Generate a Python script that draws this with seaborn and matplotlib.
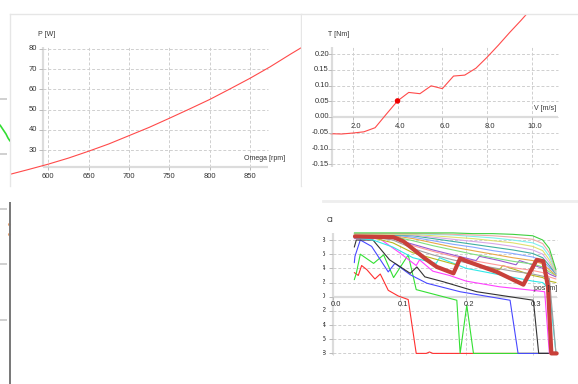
import pandas as pd
import matplotlib.pyplot as plt
import seaborn as sns

sns.set_style("white")
plt.rcParams['font.family'] = ['Liberation Sans', 'DejaVu Sans']

# --- power curve (top left)
omega = [552, 575, 600, 625, 650, 675, 700, 725, 750, 775, 800, 825, 850, 875, 900, 915]
power = [17.9, 20.3, 23.0, 26.0, 29.4, 33.0, 37.1, 41.2, 45.7, 50.3, 55.0, 60.2, 65.5, 71.2, 77.4, 81.0]
omega_ticks = [600, 650, 700, 750, 800, 850]
power_ticks = [30, 40, 50, 60, 70, 80]

# --- torque vs wind speed (top right)
wind = [1.0, 1.5, 2.0, 2.5, 3.0, 3.5, 4.0, 4.5, 5.0, 5.5, 6.0, 6.5, 7.0, 7.5, 8.0, 8.5, 9.0, 9.5, 10.0]
torque = [-0.053, -0.054, -0.051, -0.047, -0.034, 0.009, 0.051, 0.078, 0.074, 0.099, 0.090,
          0.130, 0.133, 0.155, 0.190, 0.228, 0.268, 0.306, 0.346]
wind_ticks = [2.0, 4.0, 6.0, 8.0, 10.0]
torque_ticks = [-0.15, -0.10, -0.05, 0.00, 0.05, 0.10, 0.15, 0.20]
sel_wind = [4.0]
sel_torque = [0.051]

# --- Cl along the blade (bottom right)
pos_ticks = [0.0, 0.1, 0.2, 0.3]
cl_ticks = [-0.8, -0.6, -0.4, -0.2, 0.0, 0.2, 0.4, 0.6, 0.8]

red_pos = [0.032, 0.038, 0.043, 0.051, 0.063, 0.071, 0.083, 0.098, 0.113, 0.125, 0.140, 0.145, 0.150, 0.336]
red_cl = [0.34, 0.30, 0.44, 0.38, 0.25, 0.32, 0.09, 0.01, -0.04, -0.80, -0.80, -0.78, -0.80, -0.80]
green_pos = [0.032, 0.035, 0.041, 0.061, 0.076, 0.091, 0.113, 0.125, 0.186, 0.191, 0.201, 0.211, 0.336]
green_cl = [0.24, 0.33, 0.60, 0.47, 0.59, 0.27, 0.59, 0.10, -0.05, -0.80, -0.12, -0.80, -0.80]
blue_pos = [0.032, 0.033, 0.041, 0.058, 0.083, 0.093, 0.116, 0.141, 0.191, 0.266, 0.278, 0.336]
blue_cl = [0.48, 0.57, 0.80, 0.71, 0.35, 0.47, 0.31, 0.19, 0.07, -0.05, -0.80, -0.80]
black_pos = [0.032, 0.035, 0.060, 0.085, 0.116, 0.126, 0.138, 0.166, 0.216, 0.301, 0.309, 0.336]
black_cl = [0.70, 0.80, 0.80, 0.52, 0.33, 0.42, 0.28, 0.21, 0.07, -0.05, -0.80, -0.80]
magenta_pos = [0.032, 0.070, 0.100, 0.125, 0.130, 0.150, 0.175, 0.200, 0.250, 0.300, 0.318, 0.325, 0.336]
magenta_cl = [0.82, 0.82, 0.62, 0.44, 0.52, 0.36, 0.30, 0.22, 0.14, 0.09, 0.07, -0.80, -0.80]
cyan_pos = [0.032, 0.06, 0.09, 0.12, 0.155, 0.16, 0.20, 0.25, 0.30, 0.315, 0.325, 0.335]
cyan_cl = [0.83, 0.80, 0.70, 0.55, 0.47, 0.55, 0.40, 0.31, 0.22, 0.20, 0.10, -0.80]
olive_pos = [0.032, 0.06, 0.09, 0.12, 0.15, 0.185, 0.19, 0.22, 0.25, 0.255, 0.30, 0.315, 0.325, 0.335]
olive_cl = [0.84, 0.83, 0.76, 0.62, 0.54, 0.45, 0.52, 0.44, 0.38, 0.44, 0.30, 0.27, 0.22, 0.20]
purple_pos = [0.032, 0.06, 0.09, 0.12, 0.15, 0.18, 0.215, 0.22, 0.25, 0.275, 0.28, 0.30, 0.315, 0.325, 0.335]
purple_cl = [0.85, 0.85, 0.82, 0.74, 0.66, 0.59, 0.51, 0.57, 0.51, 0.45, 0.51, 0.45, 0.40, 0.32, 0.28]

fan_pos = [0.032, 0.06, 0.09, 0.12, 0.15, 0.18, 0.21, 0.24, 0.27, 0.30, 0.315, 0.325, 0.335]
gray_cl = [0.84, 0.84, 0.80, 0.68, 0.59, 0.52, 0.46, 0.41, 0.36, 0.32, 0.29, 0.26, -0.80]
pink_cl = [0.85, 0.85, 0.83, 0.72, 0.64, 0.57, 0.51, 0.46, 0.41, 0.37, 0.34, 0.28, 0.25]
lgreen_cl = [0.86, 0.86, 0.85, 0.79, 0.72, 0.66, 0.60, 0.55, 0.50, 0.46, 0.42, 0.35, 0.30]
orange_cl = [0.86, 0.86, 0.86, 0.82, 0.76, 0.70, 0.65, 0.60, 0.55, 0.51, 0.46, 0.38, 0.30]
lblue_cl = [0.87, 0.87, 0.87, 0.84, 0.79, 0.74, 0.70, 0.65, 0.61, 0.56, 0.51, 0.41, 0.32]
teal_cl = [0.87, 0.87, 0.87, 0.86, 0.82, 0.78, 0.74, 0.70, 0.66, 0.61, 0.55, 0.44, 0.32]
lavender_cl = [0.88, 0.88, 0.88, 0.87, 0.84, 0.81, 0.78, 0.75, 0.71, 0.66, 0.60, 0.48, 0.33]
yellow_cl = [0.88, 0.88, 0.88, 0.88, 0.86, 0.84, 0.82, 0.79, 0.76, 0.71, 0.65, 0.52, 0.34]
aqua_cl = [0.89, 0.89, 0.89, 0.89, 0.88, 0.87, 0.85, 0.83, 0.80, 0.76, 0.70, 0.57, 0.35]
salmon_cl = [0.89, 0.89, 0.89, 0.89, 0.89, 0.88, 0.87, 0.86, 0.84, 0.81, 0.75, 0.62, 0.36]
top_cl = [0.90, 0.90, 0.90, 0.90, 0.90, 0.90, 0.89, 0.89, 0.88, 0.86, 0.80, 0.68, 0.38]

sel_pos = [0.033, 0.091, 0.106, 0.138, 0.156, 0.181, 0.191, 0.201, 0.216, 0.246, 0.286,
           0.306, 0.316, 0.323, 0.328, 0.336]
sel_cl = [0.85, 0.84, 0.78, 0.54, 0.42, 0.33, 0.54, 0.50, 0.45, 0.35, 0.17,
          0.52, 0.50, 0.14, -0.80, -0.80]

# cropped neighbour panel on the far left
side_x = [0, 2, 4, 6, 8, 10]
side_y = [125, 128, 131, 134, 138, 141]

W, H = 578, 384
GRID = '#cfcfcf'
AXC = '#dcdcdc'
TXT = '#333333'
FS = 5.5   # tick labels
FL = 5     # axis titles

fig = plt.figure(figsize=(W / 100, H / 100), dpi=100)


def panel(box):
    l, t, r, b = box
    ax = fig.add_axes([l / W, 1 - b / H, (r - l) / W, (b - t) / H])
    return ax


def setup(ax, box, xref, yref, border):
    l, t, r, b = box
    (p0, v0), (p1, v1) = xref
    (q0, w0), (q1, w1) = yref
    kx = (v1 - v0) / (p1 - p0)
    ky = (w1 - w0) / (q1 - q0)
    fx = lambda p: v0 + (p - p0) * kx
    fy = lambda q: w0 + (q - q0) * ky
    ax.set_xlim(fx(l), fx(r))
    ax.set_ylim(fy(b), fy(t))
    ax.set_xticks([])
    ax.set_yticks([])
    ax.set_xlabel('')
    ax.set_ylabel('')
    for side, sp in ax.spines.items():
        sp.set_visible(side in border)
        sp.set_color('#e6e6e6')
        sp.set_linewidth(1.0)
    return fx, fy


def decorate(ax, fx, fy, xt, yt, xfmt, yfmt, left, right, top, bottom, xaxis,
             ylab, ylab_xy, xlab, xlab_xy, ylab_right, xlab_y, dx=0, clip=False):
    dash = (0, (3, 2))
    ax.hlines(yt, fx(left), fx(right), colors=GRID, linestyles=dash, lw=0.7, zorder=0)
    ax.vlines(xt, fy(bottom), fy(top), colors=GRID, linestyles=dash, lw=0.7, zorder=0)
    ax.vlines(fx(left), fy(bottom), fy(top), colors=AXC, lw=1.6, zorder=0.5)
    ax.hlines(fy(xaxis), fx(left), fx(right), colors=AXC, lw=1.6, zorder=0.5)
    ax.hlines(yt, fx(left - 4), fx(left), colors='#bbbbbb', lw=0.7)
    ax.vlines(xt, fy(xaxis), fy(xaxis + 3), colors='#bbbbbb', lw=0.7)
    kw = dict(fontsize=FS, color=TXT)
    if clip:
        kw['clip_on'] = True
    for v in yt:
        t = ax.text(fx(ylab_right), v, yfmt(v), ha='right', va='center', **kw)
        if clip:
            t.set_clip_path(ax.patch)
    for v in xt:
        ax.text(v + (fx(dx) - fx(0)), fy(xlab_y), xfmt(v), ha='center', va='center', **kw)
    kw['fontsize'] = FL
    ax.text(fx(ylab_xy[0]), fy(ylab_xy[1]), ylab, ha='left', va='center', **kw)
    ax.text(fx(xlab_xy[0]), fy(xlab_xy[1]), xlab, ha='right', va='center', **kw)


# --- top left: power
box1 = (10, 14, 301, 186)
ax1 = panel(box1)
sns.lineplot(x=omega, y=power, color='#ff4a4a', lw=0.8, ax=ax1)
fx, fy = setup(ax1, box1, ((48.3, 600), (250, 850)), ((150, 30), (49, 80)), ('top', 'left', 'right'))
decorate(ax1, fx, fy, omega_ticks, power_ticks, lambda v: f"{v:d}", lambda v: f"{v:d}",
         43.3, 268, 46.7, 167, 167, "P [W]", (38, 34), "Omega [rpm]", (285, 159), 37, 176)

# --- top right: torque
box2 = (302, 14, 578, 186)
ax2 = panel(box2)
sns.lineplot(x=wind, y=torque, color='#ff4a4a', lw=0.8, ax=ax2)
sns.scatterplot(x=sel_wind, y=sel_torque, color='#ee0000', s=16, edgecolor='none', ax=ax2, zorder=5)
fx, fy = setup(ax2, box2, ((352.7, 2.0), (532, 10.0)), ((117, 0.0), (54, 0.20)), ('top',))
decorate(ax2, fx, fy, wind_ticks, torque_ticks, lambda v: f"{v:.1f}", lambda v: f"{v:.2f}",
         332, 558, 46.7, 166.7, 117, "T [Nm]", (328, 34), "V [m/s]", (556, 108), 329, 126, dx=3)

# --- bottom right: Cl
lines = [
    ("red", red_pos, red_cl, '#ff3030'),
    ("green", green_pos, green_cl, '#33e033'),
    ("blue", blue_pos, blue_cl, '#4848ff'),
    ("black", black_pos, black_cl, '#333333'),
    ("magenta", magenta_pos, magenta_cl, '#ff40ff'),
    ("cyan", cyan_pos, cyan_cl, '#30e8e8'),
    ("olive", olive_pos, olive_cl, '#b8b820'),
    ("gray", fan_pos, gray_cl, '#a0a0a0'),
    ("pink", fan_pos, pink_cl, '#ff9a9a'),
    ("purple", purple_pos, purple_cl, '#9a5ad0'),
    ("lgreen", fan_pos, lgreen_cl, '#80e080'),
    ("orange", fan_pos, orange_cl, '#e8a848'),
    ("lblue", fan_pos, lblue_cl, '#88a8ff'),
    ("teal", fan_pos, teal_cl, '#40b0a0'),
    ("lavender", fan_pos, lavender_cl, '#d8a8e8'),
    ("yellow", fan_pos, yellow_cl, '#e0e070'),
    ("aqua", fan_pos, aqua_cl, '#80f0f0'),
    ("salmon", fan_pos, salmon_cl, '#f0a8a8'),
    ("top", fan_pos, top_cl, '#40d040'),
]
df = pd.concat([pd.DataFrame({'pos': p, 'cl': c, 'line': n}) for n, p, c, _ in lines])
palette = {n: col for n, _, _, col in lines}

box3 = (323, 201, 578, 384)
ax3 = panel(box3)
sns.lineplot(data=df, x='pos', y='cl', hue='line', hue_order=[n for n, *_ in lines],
             palette=palette, sort=False, estimator=None, legend=False, lw=0.8, ax=ax3)
sns.lineplot(x=sel_pos, y=sel_cl, sort=False, estimator=None, color='#c8403a', lw=3.0, ax=ax3)
fx, fy = setup(ax3, box3, ((333, 0.0), (532.7, 0.3)), ((296.7, 0.0), (240, 0.8)), ('top',))
ax3.spines['top'].set_linewidth(2)
ax3.spines['top'].set_color('#eeeeee')
decorate(ax3, fx, fy, pos_ticks, cl_ticks, lambda v: f"{v:.1f}", lambda v: f"{v:.1f}",
         333, 557, 233, 355, 296.7, "Cl", (327, 221), "pos [m]", (557, 288), 326.5, 304.5,
         dx=3, clip=True)

# --- cropped neighbours on the left edge
axl = panel((0, 14, 10, 186))
axl.plot(side_x, side_y, color='#33dd33', lw=1.2)
axl.set_xlim(0, 10)
axl.set_ylim(186, 14)
axl.hlines([99, 154], 0, 7, colors='#c8c8c8', lw=1.2)
axl.axis('off')

axb = panel((0, 201, 11, 384))
axb.set_xlim(0, 11)
axb.set_ylim(384, 201)
axb.vlines(10, 202, 384, colors='#777777', lw=1.4)
axb.hlines([209, 264, 320], 0, 7, colors='#c8c8c8', lw=1.2)
axb.scatter([9, 9], [224, 234], s=1.5, color='#e8a070')
axb.axis('off')

fig.savefig("out.png", dpi=100, facecolor='white')
